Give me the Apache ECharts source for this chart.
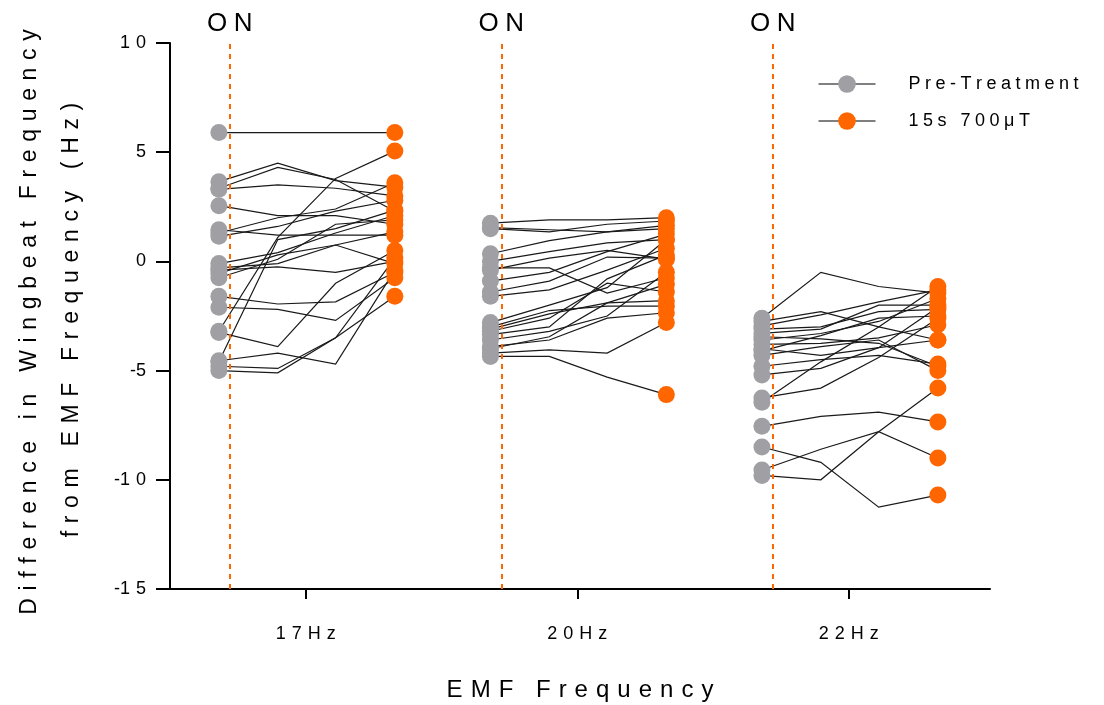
<!DOCTYPE html>
<html>
<head>
<meta charset="utf-8">
<style>
  html, body { margin: 0; padding: 0; background: #fff; }
  #chart { width: 1104px; height: 705px; }
</style>
<script src="https://cdn.jsdelivr.net/npm/echarts@6/dist/echarts.min.js"></script>
</head>
<body>
<div id="chart"></div>
<script>
// Frequency groups shown along the x axis
const categories = ['17Hz', '20Hz', '22Hz'];
const yTicks = [-15, -10, -5, 0, 5, 10];
const seriesNames = ['Pre-Treatment', '15s 700\u03bcT'];
const onLabel = 'ON';

// Per-insect traces: [pre-treatment, step 2, step 3, after 15s 700µT]
const traces17 = [
  [5.9, 5.9, 5.9, 5.9],
  [3.65, 4.5, 3.7, 3.4],
  [3.35, 4.3, 3.75, 2.3],
  [3.3, 3.5, 3.35, 3.0],
  [2.55, 2.1, 2.1, 1.7],
  [1.45, 1.2, 1.2, 1.2],
  [1.3, 2.0, 2.4, 3.6],
  [1.15, 1.6, 2.3, 2.8],
  [-0.1, 0.4, 1.3, 2.1],
  [-0.3, -0.1, 0.75, 1.35],
  [-0.4, -0.25, -0.5, 0.0],
  [-0.55, 0.3, 0.75, -0.1],
  [-0.75, 0.1, 1.7, 1.9],
  [-1.6, -1.95, -1.85, -0.5],
  [-2.1, -2.2, -2.7, -0.75],
  [-3.2, 1.1, 3.8, 5.05],
  [-4.6, 1.0, 1.5, 2.35],
  [-4.55, -4.2, -4.7, -0.4],
  [-4.8, -4.9, -3.5, 0.15],
  [-5.0, -5.1, -3.5, -1.6],
  [-3.25, -3.9, -1.0, 0.5]
];
const traces20 = [
  [1.75, 1.9, 1.9, 2.0],
  [1.5, 1.35, 1.7, 1.85],
  [1.55, 1.45, 1.35, 1.5],
  [0.35, 0.95, 1.35, 1.65],
  [0.0, 0.45, 0.85, 1.0],
  [-0.4, 0.15, 0.5, 0.1],
  [-0.3, -0.3, -1.45, -0.75],
  [-0.9, -0.5, 0.45, 1.25],
  [-1.6, -1.3, -0.4, 0.6],
  [-2.8, -2.0, -1.2, 1.0],
  [-3.0, -2.25, -2.05, -2.05],
  [-3.2, -2.6, -1.0, -1.4],
  [-3.35, -3.0, -0.8, 0.3],
  [-3.9, -3.6, -2.6, -2.35],
  [-4.0, -3.45, -1.9, -1.05],
  [-4.2, -4.05, -4.2, -2.8],
  [-4.35, -4.35, -5.3, -6.1],
  [-3.1, -2.4, -1.9, -1.8],
  [-3.6, -3.2, -2.5, -0.5],
  [-1.4, -0.9, 0.2, 0.15]
];
const traces22 = [
  [-2.6, -0.5, -1.15, -1.45],
  [-2.75, -2.3, -3.0, -3.6],
  [-2.95, -2.45, -1.85, -1.3],
  [-3.1, -3.0, -2.3, -2.2],
  [-3.45, -3.55, -3.75, -4.8],
  [-3.6, -3.3, -2.75, -1.7],
  [-3.8, -3.75, -3.5, -2.9],
  [-4.0, -4.3, -3.95, -3.6],
  [-4.3, -3.9, -3.6, -5.0],
  [-4.8, -4.5, -4.3, -4.7],
  [-5.2, -4.9, -3.95, -2.1],
  [-6.25, -5.8, -4.4, -2.6],
  [-6.45, -4.6, -3.0, -1.15],
  [-7.55, -7.1, -6.9, -7.35],
  [-8.5, -9.2, -11.25, -10.7],
  [-9.55, -8.6, -7.8, -9.0],
  [-9.8, -10.0, -7.8, -5.8],
  [-3.3, -3.1, -2.0, -2.0],
  [-4.1, -3.4, -2.6, -2.5]
];
const groupTraces = [traces17, traces20, traces22];

// Horizontal placement of the four steps around each group centre
const groupPos = [0, 1, 2];
const stepOffsets = [-0.32, -0.103, 0.11, 0.328];
const onOffset = -0.276;

const FONT = "'Liberation Sans', Arial, Helvetica, sans-serif";
const GAP = '\u2004';
function spaced(s, sp) { return Array.from(s).join(sp || GAP); }
// tick numbers keep the minus sign tight against the digits
function spacedNumber(v) {
  const s = String(Math.abs(v));
  return (v < 0 ? '-' : '') + spaced(s);
}

const traceLines = [];
const preDots = [];
const postDots = [];
groupTraces.forEach(function (traces, g) {
  traces.forEach(function (t) {
    traceLines.push({
      coords: t.map(function (v, i) { return [groupPos[g] + stepOffsets[i], v]; })
    });
    preDots.push([groupPos[g] + stepOffsets[0], t[0]]);
    postDots.push([groupPos[g] + stepOffsets[3], t[3]]);
  });
});

const chart = echarts.init(document.getElementById('chart'), null, { renderer: 'canvas' });
chart.setOption({
  animation: false,
  backgroundColor: '#fff',
  textStyle: { fontFamily: FONT },
  grid: { left: 170, right: 114, top: 43, bottom: 116 },
  xAxis: {
    type: 'value',
    min: -0.5,
    max: 2.52,
    splitLine: { show: false },
    axisLine: { show: true, onZero: false, lineStyle: { color: '#000', width: 2 } },
    axisTick: { show: true, customValues: groupPos, length: 10, lineStyle: { color: '#000', width: 2 } },
    axisLabel: {
      customValues: groupPos,
      margin: 36,
      fontSize: 18,
      color: '#000',
      fontFamily: FONT,
      formatter: function (v) { return spaced(categories[Math.round(v)] || ''); }
    }
  },
  yAxis: {
    type: 'value',
    min: yTicks[0],
    max: yTicks[yTicks.length - 1],
    interval: 5,
    splitLine: { show: false },
    axisLine: { show: true, onZero: false, lineStyle: { color: '#000', width: 2 } },
    axisTick: { show: true, length: 14, lineStyle: { color: '#000', width: 2 } },
    axisLabel: {
      margin: 24,
      fontSize: 18,
      color: '#000',
      fontFamily: FONT,
      formatter: spacedNumber
    }
  },
  legend: {
    orient: 'vertical',
    left: 818,
    top: 75,
    padding: 0,
    itemWidth: 57,
    itemHeight: 22,
    itemGap: 19,
    data: seriesNames,
    formatter: function (n) { return spaced(n, '\u2005'); },
    textStyle: { fontSize: 18, color: '#000', fontFamily: FONT, padding: [0, 0, 0, 28] },
    lineStyle: { color: '#000', width: 1, opacity: 1 }
  },
  graphic: [
    {
      type: 'text', x: 30, y: 322, rotation: Math.PI / 2,
      style: {
        text: spaced('Difference in Wingbeat Frequency'),
        fontSize: 23, fontFamily: FONT, fill: '#000',
        align: 'center', verticalAlign: 'middle'
      }
    },
    {
      type: 'text', x: 72, y: 320, rotation: Math.PI / 2,
      style: {
        text: spaced('from EMF Frequency (Hz)'),
        fontSize: 23, fontFamily: FONT, fill: '#000',
        align: 'center', verticalAlign: 'middle'
      }
    },
    {
      type: 'text', x: 580, y: 690,
      style: {
        text: spaced('EMF Frequency'),
        fontSize: 24, fontFamily: FONT, fill: '#000',
        align: 'center', verticalAlign: 'middle'
      }
    }
  ],
  series: [
    {
      type: 'lines',
      coordinateSystem: 'cartesian2d',
      polyline: true,
      silent: true,
      lineStyle: { color: '#1a1a1a', width: 1.2, opacity: 1 },
      data: traceLines,
      markLine: {
        silent: true,
        symbol: 'none',
        lineStyle: { color: '#ff6600', type: [5, 5], width: 2, opacity: 1 },
        label: {
          show: true,
          position: 'end',
          distance: 6,
          formatter: spaced(onLabel, '\u2005'),
          fontSize: 26,
          color: '#000',
          fontFamily: FONT
        },
        data: groupPos.map(function (p) { return { xAxis: p + onOffset }; })
      }
    },
    {
      name: seriesNames[0],
      type: 'line',
      data: preDots,
      symbol: 'circle',
      symbolSize: 17,
      showSymbol: true,
      showAllSymbol: true,
      lineStyle: { opacity: 0 },
      itemStyle: { color: '#a0a0a4' }
    },
    {
      name: seriesNames[1],
      type: 'line',
      data: postDots,
      symbol: 'circle',
      symbolSize: 17,
      showSymbol: true,
      showAllSymbol: true,
      lineStyle: { opacity: 0 },
      itemStyle: { color: '#ff6600' }
    }
  ]
});
</script>
</body>
</html>
